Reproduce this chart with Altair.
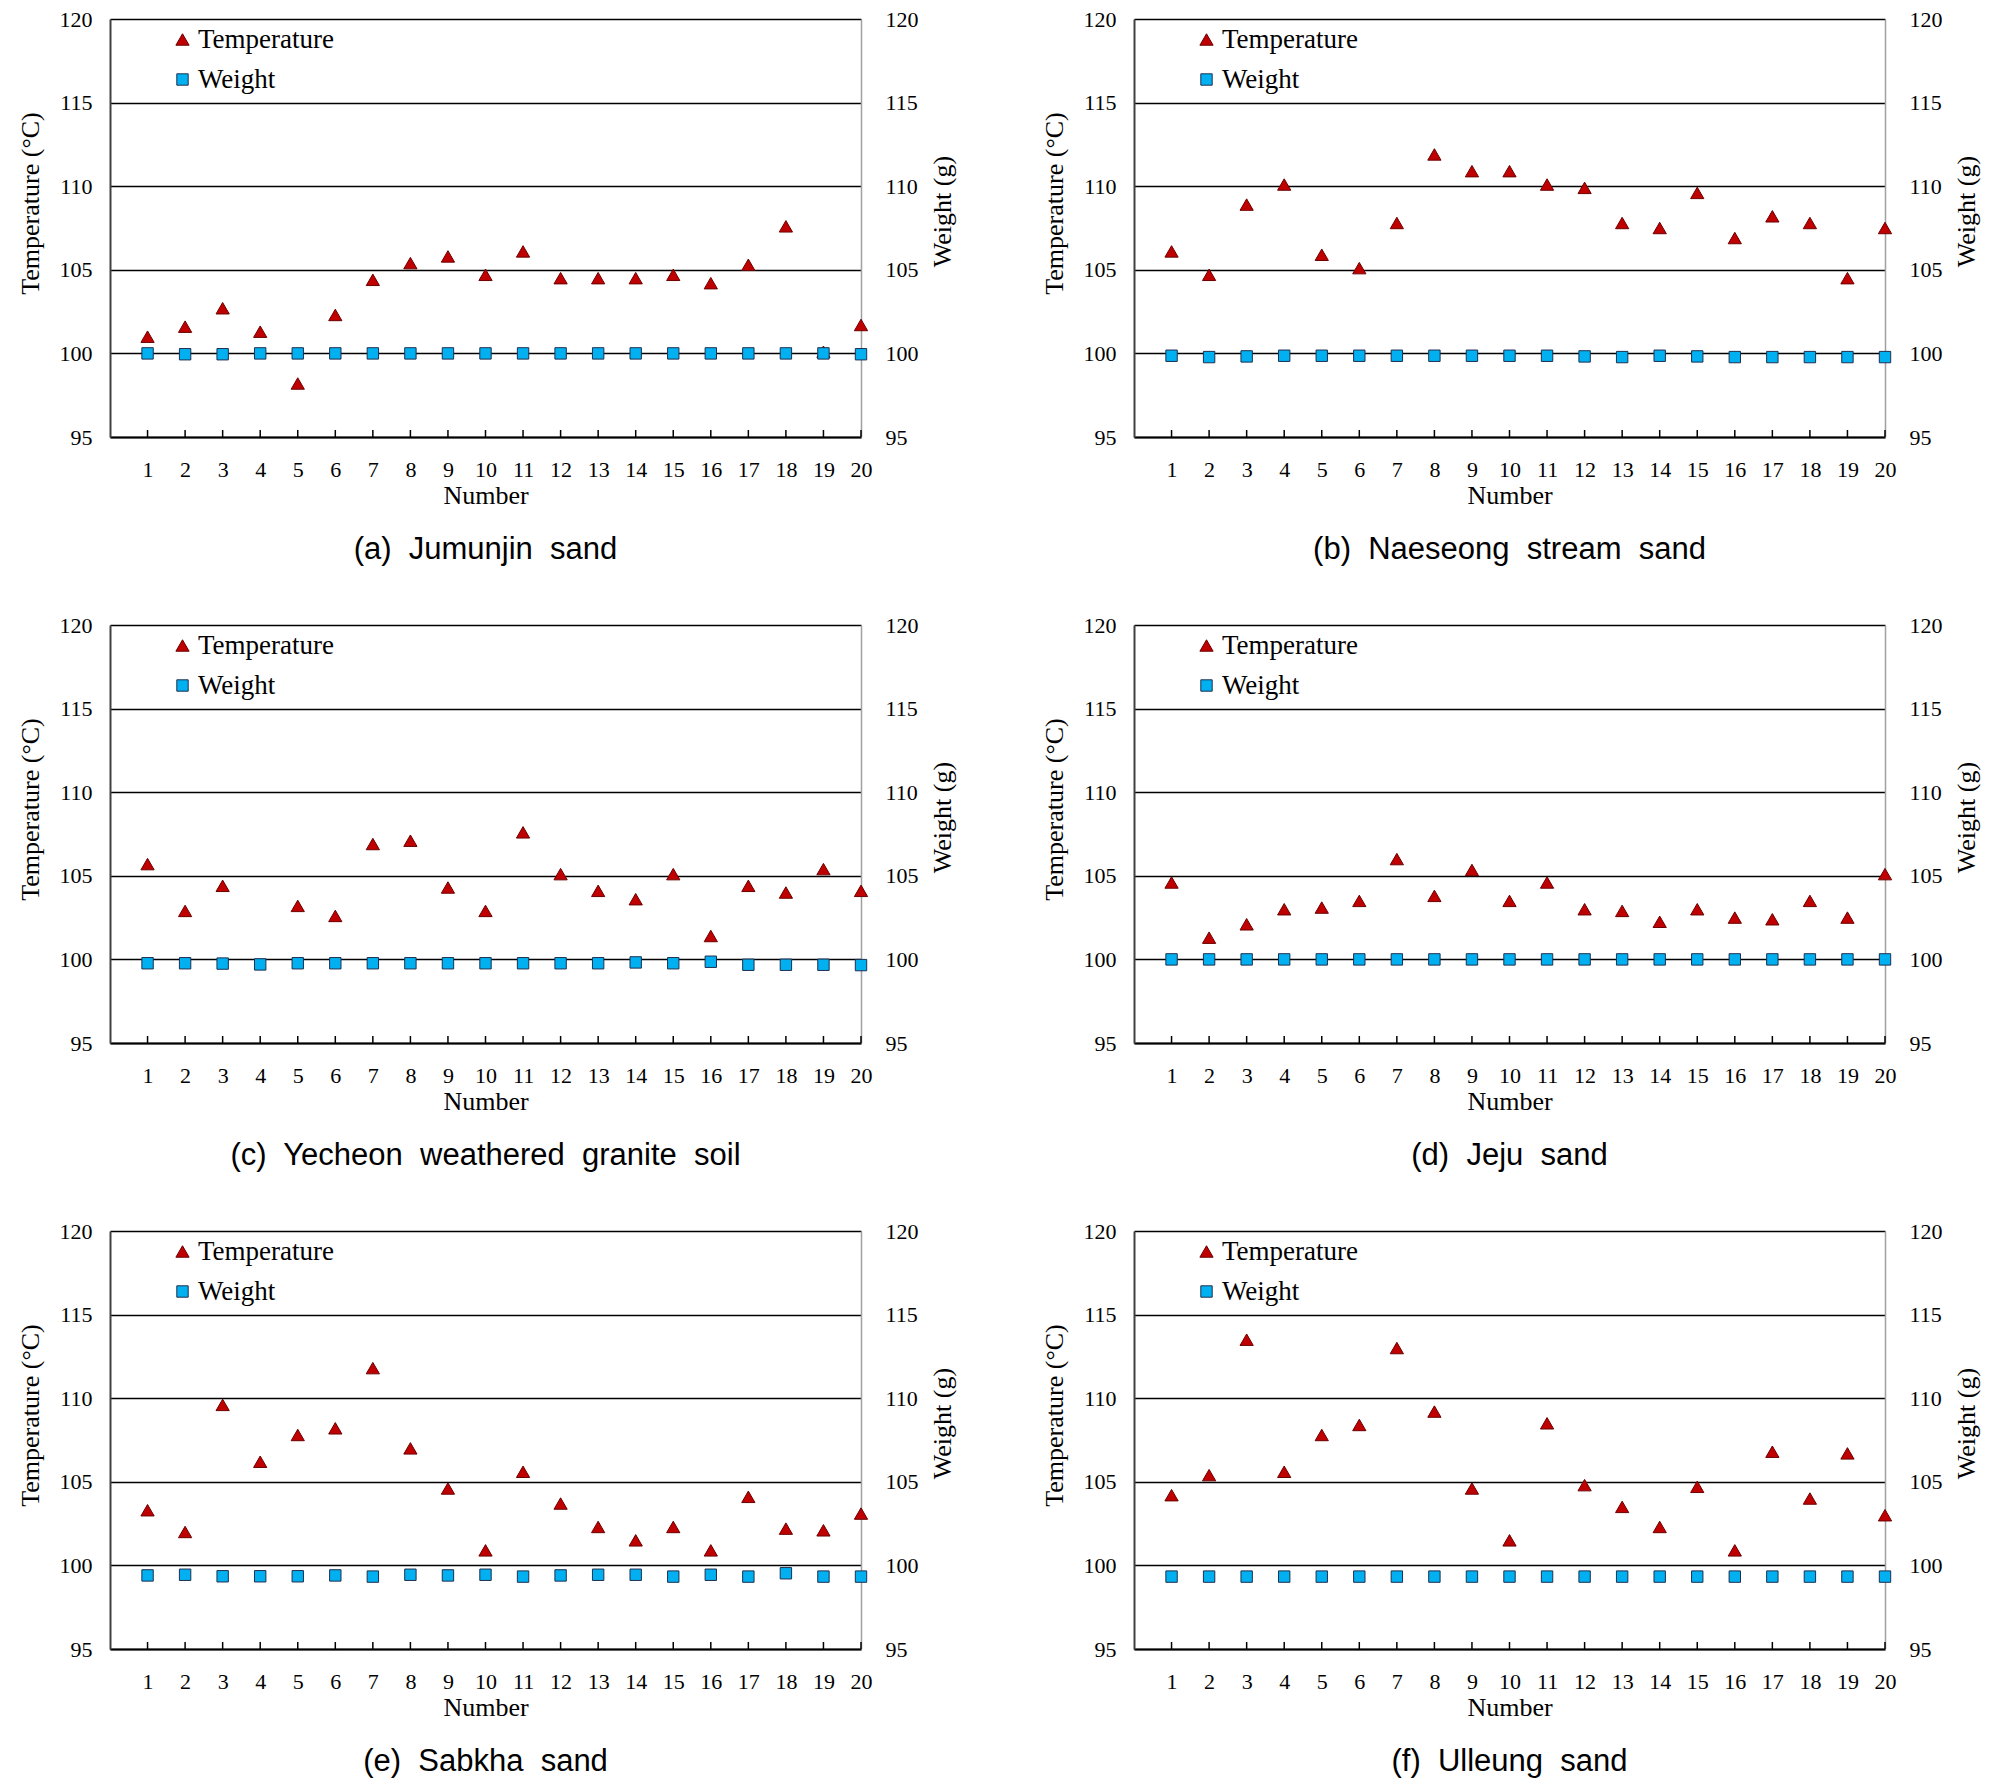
import altair as alt
import pandas as pd

NUMBERS = list(range(1, 21))
SERIES = ["Temperature", "Weight"]
Y_TICKS = [95, 100, 105, 110, 115, 120]

SP = "\u00a0 "
CAPTIONS = [
    "(a)" + SP + "Jumunjin" + SP + "sand",
    "(b)" + SP + "Naeseong" + SP + "stream" + SP + "sand",
    "(c)" + SP + "Yecheon" + SP + "weathered" + SP + "granite" + SP + "soil",
    "(d)" + SP + "Jeju" + SP + "sand",
    "(e)" + SP + "Sabkha" + SP + "sand",
    "(f)" + SP + "Ulleung" + SP + "sand",
]

TEMP_A = [101.0, 101.6, 102.7, 101.3, 98.2, 102.3, 104.4, 105.4, 105.8, 104.7,
          106.1, 104.5, 104.5, 104.5, 104.7, 104.2, 105.3, 107.6, 100.1, 101.7]
WEIGHT_A = [100.0, 99.95, 99.95, 100.0, 100.0, 100.0, 100.0, 100.0, 100.0, 100.0,
            100.0, 100.0, 100.0, 100.0, 100.0, 100.0, 100.0, 100.0, 100.0, 99.95]

TEMP_B = [106.1, 104.7, 108.9, 110.1, 105.9, 105.1, 107.8, 111.9, 110.9, 110.9,
          110.1, 109.9, 107.8, 107.5, 109.6, 106.9, 108.2, 107.8, 104.5, 107.5]
WEIGHT_B = [99.86, 99.78, 99.82, 99.86, 99.86, 99.86, 99.86, 99.86, 99.86, 99.86,
            99.86, 99.82, 99.78, 99.86, 99.82, 99.78, 99.78, 99.78, 99.78, 99.78]

TEMP_C = [105.7, 102.9, 104.4, None, 103.2, 102.6, 106.9, 107.1, 104.3, 102.9,
          107.6, 105.1, 104.1, 103.6, 105.1, 101.4, 104.4, 104.0, 105.4, 104.1]
WEIGHT_C = [99.77, 99.77, 99.75, 99.70, 99.77, 99.77, 99.77, 99.77, 99.77, 99.77,
            99.77, 99.77, 99.77, 99.82, 99.77, 99.86, 99.68, 99.68, 99.68, 99.66]

TEMP_D = [104.6, 101.3, 102.1, 103.0, 103.1, 103.5, 106.0, 103.8, 105.35, 103.5,
          104.6, 103.0, 102.9, 102.25, 103.0, 102.5, 102.4, 103.5, 102.5, 105.1]
WEIGHT_D = [100.0, 100.0, 100.0, 100.0, 100.0, 100.0, 100.0, 100.0, 100.0, 100.0,
            100.0, 100.0, 100.0, 100.0, 100.0, 100.0, 100.0, 100.0, 100.0, 100.0]

TEMP_E = [103.3, 102.0, 109.6, 106.2, 107.8, 108.2, 111.8, 107.0, 104.6, 100.9,
          105.6, 103.7, 102.3, 101.5, 102.3, 100.9, 104.1, 102.2, 102.1, 103.1]
WEIGHT_E = [99.40, 99.44, 99.35, 99.35, 99.35, 99.40, 99.33, 99.44, 99.40, 99.44,
            99.33, 99.40, 99.44, 99.44, 99.33, 99.44, 99.33, 99.53, 99.33, 99.33]

TEMP_F = [104.2, 105.4, 113.5, 105.6, 107.8, 108.4, 113.0, 109.2, 104.6, 101.5,
          108.5, 104.8, 103.5, 102.3, 104.7, 100.9, 106.8, 104.0, 106.7, 103.0]
WEIGHT_F = [99.33, 99.33, 99.33, 99.33, 99.33, 99.33, 99.33, 99.33, 99.33, 99.33,
            99.33, 99.33, 99.33, 99.33, 99.33, 99.33, 99.33, 99.33, 99.33, 99.33]

PANELS = [
    (TEMP_A, WEIGHT_A), (TEMP_B, WEIGHT_B),
    (TEMP_C, WEIGHT_C), (TEMP_D, WEIGHT_D),
    (TEMP_E, WEIGHT_E), (TEMP_F, WEIGHT_F),
]

W, H = 751, 418
SERIF = "Liberation Serif"
CAP_FONT = "Liberation Sans Narrow, Liberation Sans"
LABEL_SIZE = 22
TITLE_SIZE = 26


def panel(temp, weight, caption):
    rows = []
    for n, t in zip(NUMBERS, temp):
        if t is not None:
            rows.append({"n": n, "v": t, "s": "Temperature"})
    for n, w in zip(NUMBERS, weight):
        rows.append({"n": n, "v": w, "s": "Weight"})
    df = pd.DataFrame(rows)

    legend = alt.Legend(
        title=None, orient="none", legendX=59, legendY=7, padding=0,
        labelFont=SERIF, labelFontSize=27, labelColor="black",
        labelOffset=2, rowPadding=12, symbolStrokeWidth=1,
    )
    xscale = alt.Scale(domain=[0, 20], nice=False, zero=False)
    yscale = alt.Scale(domain=[95, 120], nice=False, zero=False)

    xaxis = alt.Axis(
        values=NUMBERS, ticks=False, grid=False, domainColor="black",
        domainWidth=2, labelFont=SERIF, labelFontSize=LABEL_SIZE, labelColor="black",
        labelPadding=22, labelFlush=False, labelOverlap=False,
        title="Number", titleFont=SERIF,
        titleFontSize=TITLE_SIZE, titleFontWeight="normal", titleColor="black",
        titlePadding=2)

    pts = alt.Chart(df).mark_point(filled=True, opacity=1, strokeWidth=1).encode(
        x=alt.X("n:Q", scale=xscale, axis=xaxis),
        y=alt.Y("v:Q", scale=yscale, axis=alt.Axis(
            values=Y_TICKS, ticks=False, grid=True, gridColor="black",
            gridWidth=1.6, domainColor="#404040", domainWidth=2,
            labelFont=SERIF, labelFontSize=LABEL_SIZE, labelColor="black",
            labelPadding=18, labelFlush=False, labelOverlap=False,
            title="Temperature (\u00b0C)",
            titleFont=SERIF, titleFontSize=TITLE_SIZE, titleFontWeight="normal",
            titleColor="black", titlePadding=16, titleY=184)),
        color=alt.Color("s:N", scale=alt.Scale(domain=SERIES, range=["#c00000", "#00b0f0"]), legend=legend),
        shape=alt.Shape("s:N", scale=alt.Scale(domain=SERIES, range=["triangle-up", "square"]), legend=legend),
        stroke=alt.Stroke("s:N", scale=alt.Scale(domain=SERIES, range=["#6b0000", "#1f3050"]), legend=legend),
        size=alt.Size("s:N", scale=alt.Scale(domain=SERIES, range=[175, 130]), legend=legend),
    )

    ticks_df = pd.DataFrame({"n": NUMBERS})
    ticks = alt.Chart(ticks_df).mark_rule(color="black", strokeWidth=1.5).encode(
        x=alt.X("n:Q", scale=xscale, axis=xaxis),
        y=alt.value(H),
        y2=alt.value(H - 7),
    )

    right = alt.Chart(df).mark_point(opacity=0).encode(
        y=alt.Y("v:Q", scale=yscale, axis=alt.Axis(
            orient="right", values=Y_TICKS, ticks=False, grid=False,
            domainColor="#a0a0a0", domainWidth=1.5, labelFont=SERIF,
            labelFontSize=LABEL_SIZE, labelColor="black", labelPadding=24,
            labelFlush=False, labelOverlap=False, title="Weight (g)", titleFont=SERIF,
            titleFontSize=TITLE_SIZE, titleFontWeight="normal", titleColor="black",
            titleAngle=270, titleBaseline="middle", titleX=81, titleY=192)),
    )

    return alt.layer(ticks, pts, right).resolve_scale(y="independent").properties(
        width=W, height=H,
        title=alt.TitleParams(caption, orient="bottom", anchor="middle",
                              font=CAP_FONT, fontSize=31, fontWeight="normal",
                              color="black", offset=27),
    )


charts = [panel(t, w, c) for (t, w), c in zip(PANELS, CAPTIONS)]

chart = alt.concat(
    *charts, columns=2, spacing={"row": 188, "column": 273}, bounds="flush"
).resolve_scale(
    color="independent", shape="independent", stroke="independent", size="independent"
).resolve_legend(
    color="independent", shape="independent", stroke="independent", size="independent"
).properties(
    padding={"left": 9, "top": 0, "right": 5, "bottom": 5},
    background="white",
).configure_axis(labelOverlap=False).configure_view(stroke=None)

chart.save("out.html", embed_options={"renderer": "svg", "actions": False})
